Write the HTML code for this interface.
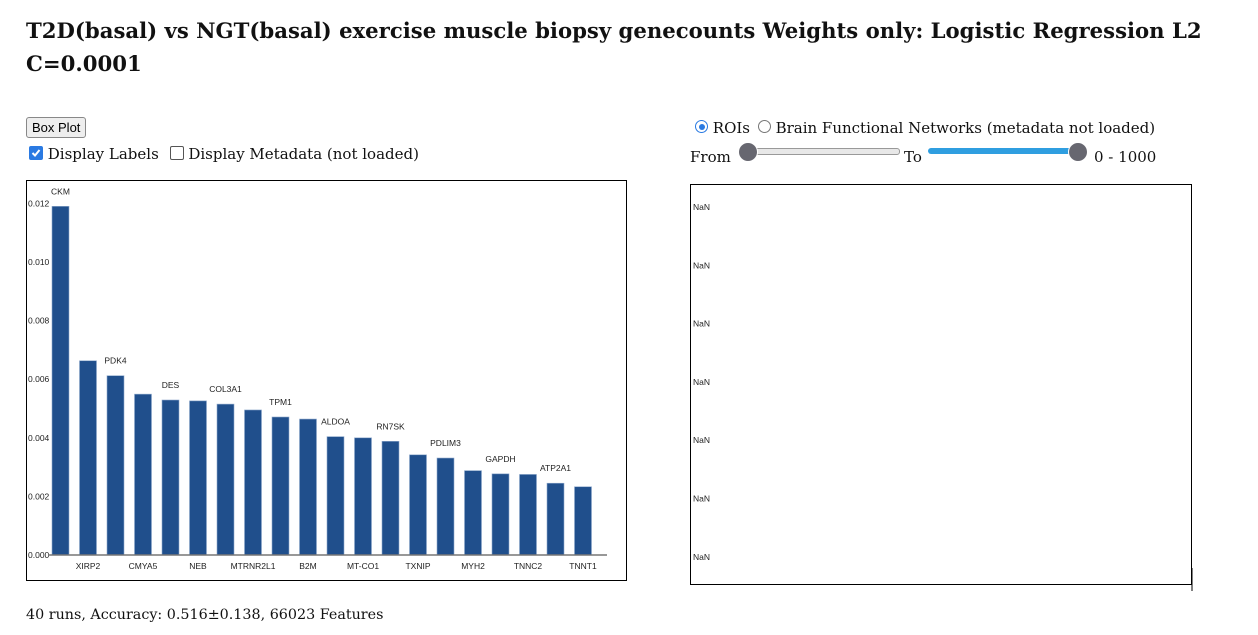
<!DOCTYPE html>
<html><head><meta charset="utf-8">
<style>
body{margin:0;width:1258px;height:635px;background:#fff;font-family:"DejaVu Serif","Liberation Serif",serif;color:#111;position:relative;overflow:hidden}
h1{position:absolute;left:26px;top:14px;margin:0;font-size:21.2px;line-height:33px;font-weight:bold;width:1215px}
.abs{position:absolute}
button{font-family:"Liberation Sans",sans-serif;font-size:13px;padding:2px 5px;border:1px solid #888;border-radius:3px;background:#eee}
.lbl{font-size:15px}
.cb{display:inline-block;width:12px;height:12px;border:1px solid #555;border-radius:2px;vertical-align:-1px}
.radio{display:inline-block;width:11px;height:11px;border:1.5px solid #777;border-radius:50%;vertical-align:0}
</style></head><body>
<h1>T2D(basal) vs NGT(basal) exercise muscle biopsy genecounts Weights only: Logistic Regression L2 C=0.0001</h1>
<button class="abs" style="left:26px;top:117px">Box Plot</button>
<div class="abs lbl" style="left:29px;top:145px">
<span class="cb" style="background:#2a7ae2;border-color:#2a7ae2;position:relative"><svg width="12" height="12" style="position:absolute;left:0;top:0"><path d="M2.5 6 L5 8.5 L9.5 3" stroke="#fff" stroke-width="2" fill="none"/></svg></span>
<span>Display Labels</span>
<span class="cb" style="margin-left:6px"></span>
<span>Display Metadata (not loaded)</span>
</div>
<svg class="abs" style="left:26px;top:180px" width="602" height="402" id="chart">
<rect x="0.5" y="0.5" width="600" height="400" fill="#fff" stroke="#000"/>
</svg>
<div class="abs" style="left:26px;top:607px;font-size:14.3px">40 runs, Accuracy: 0.516±0.138, 66023 Features</div>
<div class="abs lbl" style="left:695px;top:119px">
<span class="radio" style="border-color:#2a7ae2;position:relative"><span style="position:absolute;left:2.5px;top:2.5px;width:6px;height:6px;border-radius:50%;background:#2a7ae2"></span></span>
<span>ROIs</span>
<span class="radio" style="margin-left:3px"></span>
<span>Brain Functional Networks (metadata not loaded)</span>
</div>
<div class="abs lbl" style="left:690px;top:148px">From</div>
<div class="abs" style="left:745px;top:148px;width:153px;height:5px;background:#e8e8e8;border:1px solid #999;border-radius:3px"></div>
<div class="abs" style="left:738px;top:142px;width:18px;height:18px;border-radius:50%;background:#676770;border:1px solid #fff"></div>
<div class="abs lbl" style="left:904px;top:148px">To</div>
<div class="abs" style="left:928px;top:148px;width:150px;height:6px;background:#2f9ee0;border-radius:3px"></div>
<div class="abs" style="left:1068px;top:142px;width:18px;height:18px;border-radius:50%;background:#676770;border:1px solid #fff"></div>
<div class="abs lbl" style="left:1094px;top:148px">0 - 1000</div>
<svg class="abs" style="left:690px;top:184px" width="504" height="408" id="roi">
<rect x="0.5" y="0.5" width="501" height="400" fill="#fff" stroke="#000"/>
<line x1="502" y1="384" x2="502" y2="407" stroke="#000"/>
</svg>
<script>
const categories=["CKM","XIRP2","PDK4","CMYA5","DES","NEB","COL3A1","MTRNR2L1","TPM1","B2M","ALDOA","MT-CO1","RN7SK","TXNIP","PDLIM3","MYH2","GAPDH","TNNC2","ATP2A1","TNNT1"];
const values=[0.0119,0.00663,0.00612,0.00549,0.00529,0.00526,0.00515,0.00495,0.00471,0.00464,0.00404,0.0040,0.00388,0.00342,0.00331,0.00288,0.00277,0.00275,0.00245,0.00233];
const yTicks=[0,0.002,0.004,0.006,0.008,0.010,0.012];
const nanRows=["NaN","NaN","NaN","NaN","NaN","NaN","NaN"];
const NS="http://www.w3.org/2000/svg";
const svg=document.getElementById("chart");
const y0=375,ppu=29300;
const yS=v=>y0-v*ppu;
const xS=i=>26+i*27.5;
function mk(t,a,p){const e=document.createElementNS(NS,t);for(const k in a)e.setAttribute(k,a[k]);(p||svg).appendChild(e);return e;}
yTicks.forEach(t=>{
 const e=mk("text",{x:2,y:yS(t)+3,"font-size":8.5,"font-family":"Liberation Sans,sans-serif",fill:"#222"});
 e.textContent=t.toFixed(3);
 
 
});
values.forEach((v,i)=>{
 const r=mk("rect",{x:xS(i),y:yS(v),width:17,height:y0-yS(v),fill:"#204f8c",stroke:"#8fa9cc","stroke-width":0.6});
 
 
 const lbl=mk("text",{"font-size":8.5,"font-family":"Liberation Sans,sans-serif",fill:"#222","text-anchor":"middle",x:xS(i)+8.5});
 lbl.textContent=categories[i];
 if(i%2===0){lbl.setAttribute("y",yS(v)-12);}
 else{lbl.setAttribute("y",y0+14);}
 
 
});
const ax=mk("line",{x1:22,y1:y0,x2:581,y2:y0,stroke:"#777","stroke-width":1.5});


const roi=document.getElementById("roi");
nanRows.forEach((t,i)=>{
 const e=mk("text",{x:3,y:26+i*58.3,"font-size":8.5,"font-family":"Liberation Sans,sans-serif",fill:"#222"},roi);
 e.textContent=t;
 
 
});
</script>
</body></html>
